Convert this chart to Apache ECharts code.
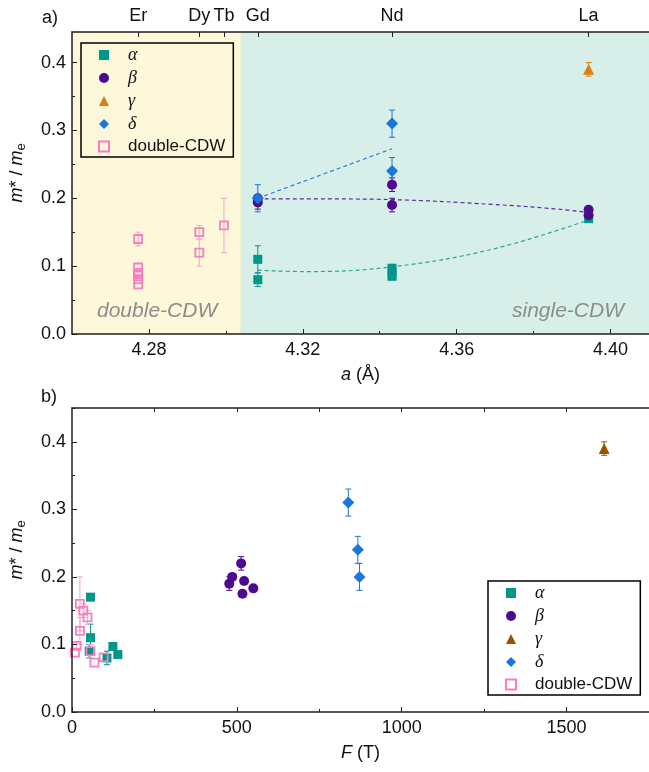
<!DOCTYPE html>
<html><head><meta charset="utf-8">
<script src="https://cdn.jsdelivr.net/npm/echarts@6/dist/echarts.min.js"></script>
<style>html,body{margin:0;padding:0;background:#fff}#c{width:649px;height:772px}</style>
</head><body><div id="c"></div>
<script>
// ---------- tick labels ----------
const elementNames = ['Er','Dy','Tb','Gd','Nd','La'];
const elementA = [4.2772, 4.2931, 4.2995, 4.3083, 4.3432, 4.3943];
const aMajorTicks = [4.28, 4.32, 4.36, 4.40];
const aMinorTicks = [4.30, 4.34, 4.38];
const mMajorTicks = [0, 0.1, 0.2, 0.3, 0.4];
const mMinorTicksA = [0.05, 0.15, 0.25, 0.35];
const mMinorTicksB = [0.05, 0.15, 0.25, 0.35, 0.45];
const fMajorTicks = [0, 500, 1000, 1500];
const fMinorTicks = [250, 750, 1250, 1750];
const fTopTicks = [250, 500, 750, 1000, 1250, 1500];
const legendNames = ['α','β','γ','δ','double-CDW'];
// ---------- regions (panel a) ----------
const regionBounds = [[4.26, 4.304], [4.304, 4.41]];
const regionLabels = ['double-CDW', 'single-CDW'];
// ---------- panel a data: [a (Å), m*/me, error] ----------
const alphaA = [[4.3083,0.11,0.02],[4.3083,0.08,0.01],[4.3432,0.097,0],[4.3432,0.09,0],[4.3432,0.085,0],[4.3943,0.17,0]];
const betaA  = [[4.3083,0.2,0],[4.3083,0.194,0.01],[4.3432,0.22,0.01],[4.3432,0.19,0.01],[4.3943,0.183,0],[4.3943,0.175,0]];
const gammaA = [[4.3943,0.39,0.01]];
const deltaA = [[4.3083,0.2,0.02],[4.3432,0.31,0.02],[4.3432,0.24,0.02]];
const dcdwA  = [[4.2772,0.14,0.01],[4.2772,0.098,0],[4.2772,0.09,0],[4.2772,0.088,0],[4.2772,0.081,0],[4.2772,0.073,0],
                [4.2931,0.15,0.01],[4.2931,0.12,0.02],[4.2995,0.16,0.04]];
// fitted guide curves
const fitAlpha = [[4.3083,0.094],[4.3206,0.092],[4.3432,0.099],[4.3693,0.125],[4.3943,0.168]];
const fitBeta  = [[4.3083,0.199],[4.3265,0.199],[4.3432,0.198],[4.3693,0.191],[4.3864,0.184],[4.3943,0.179]];
const fitDelta = [[4.3083,0.200],[4.3432,0.273]];
// ---------- panel b data: [F (T), m*/me, error] ----------
const alphaB = [[56,0.17,0],[56,0.11,0.02],[52,0.09,0.01],[124,0.097,0],[139,0.085,0],[106,0.08,0.01]];
const betaB  = [[477,0.19,0.01],[486,0.2,0],[513,0.22,0.01],[522,0.194,0],[517,0.175,0],[550,0.183,0]];
const gammaB = [[1614,0.39,0.01]];
const deltaB = [[838,0.31,0.02],[867,0.24,0.02],[872,0.2,0.02]];
const dcdwB  = [[9,0.088,0],[14,0.098,0.005],[24,0.16,0.04],[24,0.12,0.02],[34,0.15,0.01],[47,0.14,0.01],[56,0.09,0.01],[68,0.073,0],[96,0.081,0.005]];

const FONT = 'Liberation Sans';
const C = {alpha:'#00968c', beta:'#4b0a8f', gammaA:'#e07d10', gammaB:'#9a5200', delta:'#1a76dc', dcdw:'#f77fc0', dcdwErr:'#f7a3cc'};
const AXC = '#222';

function errRender(color){
  return function(params, api){
    const x = api.value(0), y = api.value(1), e = api.value(2);
    if (!e) return null;
    const lo = api.coord([x, y - e]), hi = api.coord([x, y + e]);
    const w = 3;
    const st = {stroke: color, lineWidth: 1};
    return {type:'group', children:[
      {type:'line', shape:{x1:lo[0], y1:lo[1], x2:hi[0], y2:hi[1]}, style:st},
      {type:'line', shape:{x1:lo[0]-w, y1:lo[1], x2:lo[0]+w, y2:lo[1]}, style:st},
      {type:'line', shape:{x1:hi[0]-w, y1:hi[1], x2:hi[0]+w, y2:hi[1]}, style:st}
    ]};
  };
}
function errSeries(data, color, xi, yi){
  return {type:'custom', xAxisIndex:xi, yAxisIndex:yi, renderItem:errRender(color), z:2,
    dimensions:['x','y','e'], encode:{x:0, y:1}, data:data, silent:true};
}
function scat(name, data, xi, yi, symbol, size, style){
  return {type:'scatter', name:name, xAxisIndex:xi, yAxisIndex:yi, symbol:symbol, symbolSize:size, z:3,
    itemStyle:Object.assign({opacity:1}, style), data:data.map(d => [d[0], d[1]])};
}
function fitLine(data, color){
  return {type:'line', name:'fit', xAxisIndex:0, yAxisIndex:0, data:data, smooth:0.4, symbol:'none', z:1,
    lineStyle:{color:color, width:1.2, type:[4,3]}, silent:true};
}
const tickStyle = {color: AXC, width: 1};
function mainX(gi, min, max, ticks, fmt, name){
  return {type:'value', gridIndex:gi, position:'bottom', min:min, max:max, z:10,
    axisLine:{show:true, lineStyle:{color:AXC, width:1.5}},
    axisTick:{show:true, inside:true, length:5, customValues:ticks, lineStyle:tickStyle},
    axisLabel:{customValues:ticks, formatter:fmt, fontSize:18, color:'#111', fontFamily:FONT, margin:7},
    splitLine:{show:false},
    name:name, nameLocation:'middle', nameGap:32,
    nameTextStyle:{fontFamily:FONT, fontSize:18, color:'#111',
      rich:{i:{fontStyle:'italic', fontSize:18, fontFamily:FONT, color:'#111'}, n:{fontSize:18, fontFamily:FONT, color:'#111'}}}
  };
}
function minorAxis(gi, min, max, ticks, pos, len){
  return {type:'value', gridIndex:gi, position:pos, min:min, max:max, z:10,
    axisLine:{show:false}, axisLabel:{show:false}, splitLine:{show:false},
    axisTick:{show:true, inside:true, length:len, customValues:ticks, lineStyle:tickStyle}};
}
const yName = '{i|m}{n|* / }{i|m}{sub|e}';
function mainY(gi, max){
  return {type:'value', gridIndex:gi, position:'left', min:0, max:max, z:10,
    axisLine:{show:true, lineStyle:{color:AXC, width:1.5}},
    axisTick:{show:true, inside:true, length:5, customValues:mMajorTicks, lineStyle:tickStyle},
    axisLabel:{customValues:mMajorTicks, formatter:v => v.toFixed(1), fontSize:18, color:'#111', fontFamily:FONT, margin:6},
    splitLine:{show:false},
    name:yName, nameLocation:'middle', nameGap:44, nameRotate:90,
    nameTextStyle:{fontFamily:FONT, fontSize:18, color:'#111', padding:[0,0,0,20],
      rich:{i:{fontStyle:'italic', fontSize:18, fontFamily:FONT, color:'#111'},
            n:{fontSize:18, fontFamily:FONT, color:'#111'},
            sub:{fontSize:13, fontFamily:FONT, color:'#111', padding:[9,0,0,0]}}}
  };
}
function legendCfg(left, top, names){
  return {orient:'vertical', left:left, top:top, data:names, itemWidth:10, itemHeight:10, itemGap:5,
    borderColor:'#000', borderWidth:1.5, padding:[3, 8, 2, 17], selectedMode:false,
    formatter: n => { const b = n.replace('_b',''); return b === 'double-CDW' ? '{s|double-CDW}' : '{g|' + b + '}'; },
    textStyle:{padding:[0,0,0,14], rich:{
      g:{fontFamily:'Liberation Serif', fontStyle:'italic', fontSize:18, lineHeight:18, color:'#111'},
      s:{fontFamily:FONT, fontSize:17, lineHeight:18, color:'#111'}}}
  };
}
const bgColors = ['#fcf8d9', '#d8eee8'];
const bgSeries = {
  type:'custom', xAxisIndex:0, yAxisIndex:0, z:0, silent:true, clip:true,
  encode:{x:[0,1]}, data:regionBounds,
  renderItem: function(params, api){
    const i = params.dataIndex;
    const p0 = api.coord([api.value(0), 0.445]);
    const p1 = api.coord([api.value(1), 0]);
    const children = [{type:'rect', shape:{x:p0[0], y:p0[1], width:p1[0]-p0[0], height:p1[1]-p0[1]},
      style:{fill:bgColors[i], stroke: i === 0 ? '#d6e6a8' : null, lineWidth:1}}];
    children.push({type:'text', style:{text:regionLabels[i], x: i === 0 ? p0[0]+25 : p1[0]-25, y:p1[1]-23,
      textAlign: i === 0 ? 'left' : 'right', textVerticalAlign:'middle',
      font:'italic 21px "Liberation Sans"', fill:'#8c8c8c'}});
    return {type:'group', children:children};
  }
};

const option = {
  animation:false,
  backgroundColor:'#fff',
  textStyle:{fontFamily:FONT},
  grid:[{left:72, right:-6, top:32, height:302, containLabel:false},
        {left:72, right:-6, top:408, height:304, containLabel:false}],
  xAxis:[
    mainX(0, 4.26, 4.41, aMajorTicks, v => v.toFixed(2), '{i|a}{n| (Å)}'),
    minorAxis(0, 4.26, 4.41, aMinorTicks, 'bottom', 3),
    {type:'value', gridIndex:0, position:'top', min:4.26, max:4.41, z:10,
      axisLine:{show:true, lineStyle:{color:AXC, width:1.5}},
      axisTick:{show:true, inside:true, length:5, customValues:elementA, lineStyle:tickStyle},
      axisLabel:{customValues:elementA, fontSize:18, color:'#111', fontFamily:FONT, margin:7,
        formatter: v => { const k = elementA.findIndex(e => Math.abs(e - v) < 1e-4); return k >= 0 ? elementNames[k] : ''; }},
      splitLine:{show:false}},
    mainX(1, 0, 1750, fMajorTicks, v => String(v), '{i|F}{n| (T)}'),
    minorAxis(1, 0, 1750, fMinorTicks, 'bottom', 3),
    {type:'value', gridIndex:1, position:'top', min:0, max:1750, z:10,
      axisLine:{show:true, lineStyle:{color:AXC, width:1.5}},
      axisTick:{show:true, inside:true, length:4, customValues:fTopTicks, lineStyle:tickStyle},
      axisLabel:{show:false}, splitLine:{show:false}}
  ],
  yAxis:[
    mainY(0, 0.445),
    minorAxis(0, 0, 0.445, mMinorTicksA, 'left', 3),
    mainY(1, 0.45),
    minorAxis(1, 0, 0.45, mMinorTicksB, 'left', 3)
  ],
  legend:[
    legendCfg(81, 43, legendNames),
    legendCfg(488, 581, legendNames.map(n => n + '_b'))
  ],
  graphic:[
    {type:'text', left:42, top:9, style:{text:'a)', font:'18px "Liberation Sans"', fill:'#111'}},
    {type:'text', left:41, top:388, style:{text:'b)', font:'18px "Liberation Sans"', fill:'#111'}}
  ],
  series:[
    bgSeries,
    fitLine(fitAlpha, '#26a69a'),
    fitLine(fitBeta, '#5b2aa8'),
    fitLine(fitDelta, '#2b7fe0'),
    errSeries(alphaA, C.alpha, 0, 0),
    errSeries(betaA, C.beta, 0, 0),
    errSeries(gammaA, C.gammaA, 0, 0),
    errSeries(deltaA, C.delta, 0, 0),
    errSeries(dcdwA, C.dcdwErr, 0, 0),
    scat('α', alphaA, 0, 0, 'rect', 9, {color:C.alpha}),
    scat('β', betaA, 0, 0, 'circle', 10, {color:C.beta}),
    scat('γ', gammaA, 0, 0, 'triangle', 11, {color:C.gammaA}),
    scat('δ', deltaA, 0, 0, 'diamond', 12, {color:C.delta}),
    scat('double-CDW', dcdwA, 0, 0, 'rect', 8, {color:'rgba(255,255,255,0)', borderColor:C.dcdw, borderWidth:1.8}),
    errSeries(alphaB, C.alpha, 3, 2),
    errSeries(betaB, C.beta, 3, 2),
    errSeries(gammaB, C.gammaB, 3, 2),
    errSeries(deltaB, C.delta, 3, 2),
    errSeries(dcdwB, C.dcdwErr, 3, 2),
    scat('α_b', alphaB, 3, 2, 'rect', 9, {color:C.alpha}),
    scat('β_b', betaB, 3, 2, 'circle', 10, {color:C.beta}),
    scat('γ_b', gammaB, 3, 2, 'triangle', 11, {color:C.gammaB}),
    scat('δ_b', deltaB, 3, 2, 'diamond', 12, {color:C.delta}),
    scat('double-CDW_b', dcdwB, 3, 2, 'rect', 8, {color:'rgba(255,255,255,0)', borderColor:C.dcdw, borderWidth:1.8})
  ]
};
const chart = echarts.init(document.getElementById('c'), null, {renderer:'canvas'});
chart.setOption(option);
</script></body></html>
